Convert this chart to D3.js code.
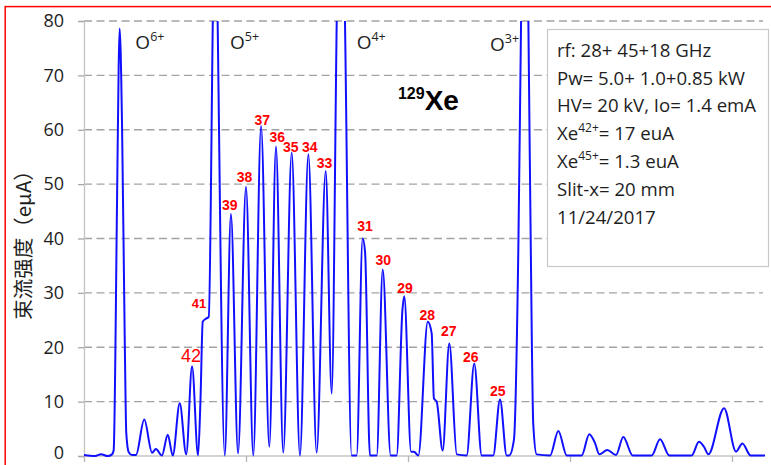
<!DOCTYPE html>
<html lang="en">
<head>
<meta charset="utf-8">
<script type="text/javascript" src="https://cdnjs.cloudflare.com/ajax/libs/d3/7.8.5/d3.min.js"></script>
<style>
body { margin: 0; background: #fff; }
svg { display: block; }
</style>
</head>
<body>
<script type="text/javascript">
    // scan position (arbitrary units) and beam current (euA)
    var scanX = [0, 6.8, 10.5, 14.8, 17.3, 18.3, 20.4, 21.4, 22.0, 23.5, 25.1, 26.1, 27.6, 29.6, 32.1,
        37.2, 42.0, 44.4, 48.1, 51.7, 54.8, 59.1, 63.1, 66.7, 70.4, 71.9, 73.3, 75.0, 77.0,
        79.5, 81.0, 82.5, 86.9, 90.7, 95.1, 100.0, 104.5, 109.3, 114.4, 118.5, 123.0, 128.2,
        133.3, 138.5, 143.6, 149.2, 152.9, 156.0, 158.5, 161.1, 165.2, 168.3, 172.0, 173.5,
        176.5, 180.7, 184.4, 189.3, 193.0, 196.6, 197.7, 201.9, 203.7, 206.4, 212.2, 214.6,
        216.0, 217.7, 221.4, 225.5, 230.1, 236.2, 240.9, 245.5, 252.6, 256.8, 260.9, 262.5,
        265.4, 268.1, 269.8, 272.0, 274.3, 276.4, 277.3, 279.4, 287.7, 292.8, 298.0, 307.2,
        311.9, 315.4, 318.1, 323.0, 328.4, 332.9, 338.7, 350.4, 355.6, 361.3, 375.1, 379.6,
        382.7, 385.4, 395.1, 402.5, 406.4, 411.5, 420.4]
    var beamI = [0.2, 0.0, 0.3, 0.0, 0.3, 1.0, 47, 71.6, 78.6, 60.6, 22.6, 4.2, 0.7, 0.2, 0.2,
        6.7, 0.6, 1.3, 0.1, 3.9, 0.1, 9.7, 0.3, 16.5, 0.1, 10.3, 24.7, 25.2, 25.6,
        80, 115, 80, 0.1, 44.5, 0.5, 49.5, 0.1, 60.7, 1.7, 56.9, 0.6, 55.8,
        0.1, 55.5, 0.6, 52.4, 11.5, 80, 130, 80, 0.1, 0.1, 40.0, 37.5,
        0.1, 0.1, 34.3, 0.1, 0.1, 27, 29.4, 0.8, 0.8, 0.1, 24.7, 22.6,
        10.6, 10.0, 1.0, 20.7, 0.3, 0.1, 17.0, 0.1, 0.1, 10.4, 0.1, 0.1,
        3, 38, 80, 130, 80, 22, 6.0, 0.3, 0.1, 4.6, 0.1, 0.1,
        4.0, 2.4, 0.3, 1.1, 0.2, 3.5, 0.1, 0.1, 3.1, 0.1, 0.1, 2.6,
        1.7, 0.3, 8.8, 0.8, 2.3, 0.1, 0.1]

    // Xe charge state labels (placed at the peak tops)
    var xeCharge = ["37", "36", "35", "34", "33", "38", "39", "41", "42", "31", "30", "29", "28", "27", "26", "25"]
    var xeLabelX = [110.0, 119.3, 127.7, 139.3, 148.5, 99.1, 90.0, 71.0, 66.0, 173.5, 184.8, 198.1, 211.9, 225.2, 238.8, 255.4]
    var xeLabelY = [60.9, 57.8, 56.0, 56.0, 53.0, 50.3, 45.2, 27.2, 17.3, 41.4, 35.1, 30.0, 25.1, 22.1, 17.2, 11.1]

    // oxygen peaks
    var oxCharge = ["6+", "5+", "4+", "3+"]
    var oxLabelX = [31.7, 90.1, 168.3, 250.6]
    var oxLabelY = [74.8, 74.8, 74.8, 74.5]

    var yTicks = [0, 10, 20, 30, 40, 50, 60, 70, 80]
    var xTicks = [0, 100, 200, 300, 400]

    var w = 771
    var h = 465

    var svg = d3.select("body")
                .append("svg")
                .attr("width", w)
                .attr("height", h)

    svg.append("rect")
        .attr("x", 0).attr("y", 0)
        .attr("width", w).attr("height", h)
        .attr("fill", "white")

    // red frame
    svg.append("rect")
        .attr("x", 5.2).attr("y", 6.6)
        .attr("width", 900).attr("height", 600)
        .attr("fill", "none")
        .attr("stroke", "#ff0000")
        .attr("stroke-width", 1.5)

    var x = d3.scaleLinear().domain([0, 420]).range([84, 764.4])
    var y = d3.scaleLinear().domain([0, 80]).range([456, 21])

    // dashed gridlines
    svg.selectAll("line.grid")
        .data(yTicks.slice(1))
        .enter()
        .append("line")
        .attr("class", "grid")
        .attr("x1", x(0))
        .attr("x2", 763)
        .attr("y1", function(d) { return y(d) })
        .attr("y2", function(d) { return y(d) })
        .attr("stroke", "#a3a3a3")
        .attr("stroke-width", 1.4)
        .attr("stroke-dasharray", "8,4.5")

    // y axis
    var yAxis = d3.axisLeft(y).tickValues(yTicks).tickSize(6).tickPadding(14)
    var gy = svg.append("g")
        .attr("transform", "translate(" + x(0) + ",0)")
        .call(yAxis)
    gy.select(".domain").attr("stroke", "#c4c4c4").attr("stroke-width", 1.3)
    gy.selectAll(".tick line").attr("stroke", "#a8a8a8").attr("stroke-width", 1.3)
    gy.selectAll(".tick text")
        .attr("font-family", "'Open Sans', sans-serif")
        .attr("font-size", "18px")
        .attr("fill", "#1e1e1e")
    // keep the bottom label inside the picture
    gy.selectAll(".tick text")
        .filter(function(d) { return d === 0 })
        .attr("dy", "0.16em")

    // x axis (no labels)
    var xAxis = d3.axisBottom(x).tickValues(xTicks).tickSize(6).tickFormat("")
    var gx = svg.append("g")
        .attr("transform", "translate(0," + y(0) + ")")
        .call(xAxis)
    gx.select(".domain").attr("stroke", "#c4c4c4").attr("stroke-width", 1.3)
        .attr("d", "M" + x(0) + ",0H764")
    gx.selectAll(".tick line").attr("stroke", "#b5b5b5").attr("stroke-width", 1.3)

    // y title
    svg.append("text")
        .attr("transform", "translate(22,240) rotate(-90)")
        .attr("text-anchor", "middle")
        .attr("dominant-baseline", "central")
        .attr("font-family", "'Noto Sans CJK SC', sans-serif")
        .attr("font-size", "20.5px")
        .attr("fill", "#1e1e1e")
        .text("束流强度（eμA）")

    // spectrum
    svg.append("clipPath")
        .attr("id", "plotClip")
        .append("rect")
        .attr("x", x(0)).attr("y", y(80))
        .attr("width", 700).attr("height", 460)

    var pts = scanX.map(function(d, i) { return [d, beamI[i]] })
    var line = d3.line()
        .x(function(d) { return x(d[0]) })
        .y(function(d) { return y(d[1]) })
        .curve(d3.curveMonotoneX)

    svg.append("path")
        .datum(pts)
        .attr("clip-path", "url(#plotClip)")
        .attr("d", line)
        .attr("fill", "none")
        .attr("stroke", "#1010ff")
        .attr("stroke-width", 2)
        .attr("stroke-linejoin", "round")

    // oxygen labels
    var ox = svg.selectAll("text.ox")
        .data(oxCharge)
        .enter()
        .append("text")
        .attr("class", "ox")
        .attr("x", function(d, i) { return x(oxLabelX[i]) })
        .attr("y", function(d, i) { return y(oxLabelY[i]) })
        .attr("font-family", "'Open Sans', sans-serif")
        .attr("font-size", "19px")
        .attr("fill", "#1e1e1e")
    ox.append("tspan").text("O")
    ox.append("tspan")
        .attr("dy", -8)
        .attr("font-size", "12.5px")
        .text(function(d) { return d })

    // 129Xe
    var xe = svg.append("text")
        .attr("x", x(193.8))
        .attr("y", y(63.6))
        .attr("font-family", "'Liberation Sans', Arial, sans-serif")
        .attr("font-weight", "bold")
        .attr("fill", "#000")
    xe.append("tspan").attr("font-size", "16px").attr("dy", -11).text("129")
    xe.append("tspan").attr("font-size", "28px").attr("dy", 11).text("Xe")

    // charge state labels
    svg.selectAll("text.q")
        .data(xeCharge)
        .enter()
        .append("text")
        .attr("class", "q")
        .attr("x", function(d, i) { return x(xeLabelX[i]) })
        .attr("y", function(d, i) { return y(xeLabelY[i]) })
        .attr("text-anchor", "middle")
        .attr("font-family", "'Liberation Sans', Arial, sans-serif")
        .attr("font-weight", function(d) { return d === "42" ? "normal" : "bold" })
        .attr("font-size", function(d) { return d === "42" ? "18px" : (d === "41" ? "13px" : "14px") })
        .attr("fill", "#ff0000")
        .text(function(d) { return d })

    // info box
    var box = svg.append("g")
    box.append("rect")
        .attr("x", 547.5).attr("y", 29.5)
        .attr("width", 221).attr("height", 237)
        .attr("fill", "white")
        .attr("stroke", "#c8c8c8")
        .attr("stroke-width", 1.2)

    var info = [
        [["rf: 28+ 45+18 GHz"]],
        [["Pw= 5.0+ 1.0+0.85 kW"]],
        [["HV= 20 kV, Io= 1.4 emA"]],
        [["Xe"], ["42+", "sup"], ["= 17 euA"]],
        [["Xe"], ["45+", "sup"], ["= 1.3 euA"]],
        [["Slit-x= 20 mm"]],
        [["11/24/2017"]]
    ]
    info.forEach(function(parts, i) {
        var t = box.append("text")
            .attr("x", 557)
            .attr("y", 56.7 + i * 27.8)
            .attr("font-family", "'Open Sans', sans-serif")
            .attr("font-size", "18.6px")
            .attr("fill", "#1e1e1e")
        var raised = false
        parts.forEach(function(p) {
            var s = t.append("tspan").text(p[0])
            if (p[1] === "sup") {
                s.attr("font-size", "12px").attr("dy", -8)
                raised = true
            } else if (raised) {
                s.attr("dy", 8)
                raised = false
            }
        })
    })
</script>
</body>
</html>
